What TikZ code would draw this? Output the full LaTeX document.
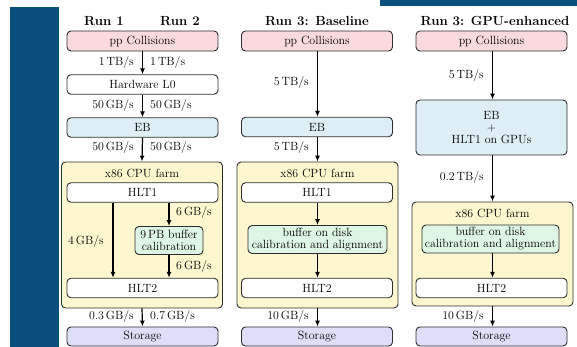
\documentclass[tikz,border=0pt]{standalone}
\usepackage{fontspec}
\usetikzlibrary{arrows.meta}
\definecolor{barblue}{RGB}{11,79,124}
\definecolor{ppfill}{RGB}{250,218,222}
\definecolor{ebfill}{RGB}{221,239,245}
\definecolor{farmfill}{RGB}{253,247,207}
\definecolor{buffill}{RGB}{222,246,228}
\definecolor{stfill}{RGB}{222,222,249}
\definecolor{edge}{RGB}{45,45,45}
\tikzset{
  txt/.style={font=\fontsize{11.9}{13}\selectfont, inner sep=0pt},
  box/.style={txt, draw=edge, line width=0.9pt, rounded corners=4pt, align=center},
  ppbox/.style={box, fill=ppfill, minimum width=151pt, minimum height=20pt},
  whitebox/.style={box, fill=white, minimum width=151pt, minimum height=19.5pt},
  ebbox/.style={box, fill=ebfill, minimum width=151pt, minimum height=19.5pt},
  farmbox/.style={box, fill=farmfill, minimum width=161pt},
  bufbox/.style={box, fill=buffill, minimum height=28pt},
  stbox/.style={box, fill=stfill, minimum width=151pt, minimum height=19pt},
  arr/.style={line width=1.2pt, -{Latex[length=6pt,width=5pt]}},
  rate/.style={txt},
  title/.style={txt, font=\fontsize{13.2}{15}\selectfont\bfseries}
}
\begin{document}
\begin{tikzpicture}[x=1pt,y=-1pt]
\useasboundingbox (0,0) rectangle (577,347);
\fill[barblue] (10,7) rectangle (59,347);
\fill[barblue] (380,0) rectangle (577,6);

% titles
\node[title] (t1) at (104,21) {Run 1};
\node[title] (t2) at (180,21) {Run 2};
\node[title] (t3) at (317,21) {Run 3: Baseline};
\node[title] (t4) at (495,21) {Run 3: GPU-enhanced};

% ---------- column 1 ----------
\node[farmbox, minimum height=146pt] (farm1) at (142,235) {};
\node[txt] (farm1t) at (142,173) {x86 CPU farm};
\node[ppbox] (pp1) at (142.5,41) {pp Collisions};
\node[whitebox] (l01) at (142.5,84.5) {Hardware L0};
\node[ebbox] (eb1) at (142.5,127.5) {EB};
\node[whitebox] (h1a) at (142.5,192.5) {HLT1};
\node[bufbox, minimum width=68pt] (buf1) at (169,240.5) {9\,PB buffer\\[-1pt]calibration};
\node[whitebox] (h2a) at (142.5,288) {HLT2};
\node[stbox] (st1) at (142.5,336.5) {Storage};

\draw[arr] (pp1) -- (l01);
\draw[arr] (l01) -- (eb1);
\draw[arr] (eb1.south) -- (farm1.north);
\draw[arr] ([xshift=-29.5pt]h1a.south) -- ([xshift=-29.5pt]h2a.north);
\draw[arr] (buf1.north |- h1a.south) -- (buf1.north);
\draw[arr] (buf1.south) -- (buf1.south |- h2a.north);
\draw[arr] (farm1.south) -- (st1.north);

\node[rate, anchor=east] (r1a) at (134,63) {1\,TB/s};
\node[rate, anchor=west] (r1b) at (150,63) {1\,TB/s};
\node[rate, anchor=east] (r2a) at (134,106) {50\,GB/s};
\node[rate, anchor=west] (r2b) at (150,106) {50\,GB/s};
\node[rate, anchor=east] (r3a) at (134,148) {50\,GB/s};
\node[rate, anchor=west] (r3b) at (150,148) {50\,GB/s};
\node[rate, anchor=east] (r4) at (104,242) {4\,GB/s};
\node[rate, anchor=west] (r5) at (176,213) {6\,GB/s};
\node[rate, anchor=west] (r6) at (176,267) {6\,GB/s};
\node[rate, anchor=east] (r7a) at (134,317) {0.3\,GB/s};
\node[rate, anchor=west] (r7b) at (150,317) {0.7\,GB/s};

% ---------- column 2 ----------
\node[farmbox, minimum height=146pt] (farm2) at (317.5,235) {};
\node[txt] (farm2t) at (317.5,173) {x86 CPU farm};
\node[ppbox] (pp2) at (317,41) {pp Collisions};
\node[ebbox] (eb2) at (317,127) {EB};
\node[whitebox] (h1b) at (317,192.5) {HLT1};
\node[bufbox, minimum width=139pt] (buf2) at (317.5,239.5) {buffer on disk\\[-1pt]calibration and alignment};
\node[whitebox] (h2b) at (317,288) {HLT2};
\node[stbox] (st2) at (317,336.5) {Storage};

\draw[arr] (pp2.south -| farm2.north) -- (eb2.north -| farm2.north);
\draw[arr] (eb2.south -| farm2.north) -- (farm2.north);
\draw[arr] (h1b.south -| farm2.north) -- (buf2.north);
\draw[arr] (buf2.south) -- (h2b.north -| buf2.south);
\draw[arr] (farm2.south) -- (st2.north -| farm2.south);

\node[rate, anchor=east] (r8) at (309,83) {5\,TB/s};
\node[rate, anchor=east] (r9) at (309,148) {5\,TB/s};
\node[rate, anchor=east] (r10) at (309,317) {10\,GB/s};

% ---------- column 3 ----------
\node[farmbox, minimum height=104pt] (farm3) at (492.5,254) {};
\node[txt] (farm3t) at (492.5,213) {x86 CPU farm};
\node[ppbox] (pp3) at (491.5,41) {pp Collisions};
\node[ebbox, minimum height=55pt] (eb3) at (491.5,127.5) {EB\\[-1pt]+\\[-1pt]HLT1 on GPUs};
\node[bufbox, minimum width=137pt] (buf3) at (490.5,239) {buffer on disk\\[-1pt]calibration and alignment};
\node[whitebox] (h2c) at (491.5,288) {HLT2};
\node[stbox] (st3) at (491.5,336.5) {Storage};

\draw[arr] (pp3.south -| farm3.north) -- (eb3.north -| farm3.north);
\draw[arr] (eb3.south -| farm3.north) -- (farm3.north);
\draw[arr] (buf3.south -| farm3.north) -- (h2c.north -| farm3.north);
\draw[arr] (farm3.south) -- (st3.north -| farm3.south);

\node[rate, anchor=east] (r11) at (484,76) {5\,TB/s};
\node[rate, anchor=east] (r12) at (484,178) {0.2\,TB/s};
\node[rate, anchor=east] (r13) at (484,317) {10\,GB/s};
\end{tikzpicture}
\end{document}
